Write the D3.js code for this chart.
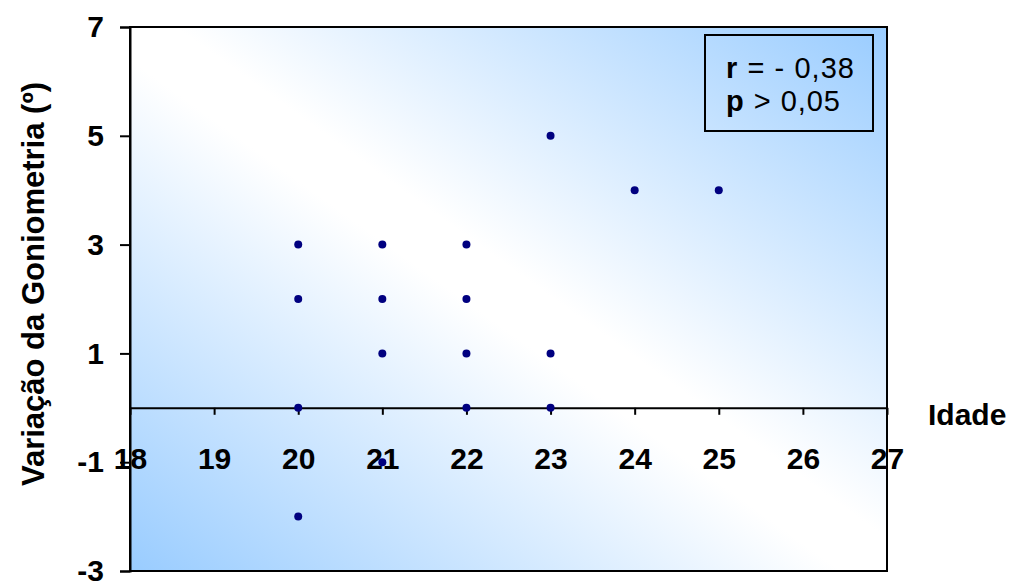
<!DOCTYPE html>
<html>
<head>
<meta charset="utf-8">
<script src="https://cdn.jsdelivr.net/npm/d3@7"></script>
<style>
  body { margin: 0; background: #fff; }
  text { font-family: Arial, "Liberation Sans", sans-serif; }
</style>
</head>
<body>
<svg id="chart" width="1017" height="585"></svg>
<script>
// idade (x) e variação da goniometria (y)
const ages    = [20, 20, 20, 20, 21, 21, 21, 21, 22, 22, 22, 22, 23, 23, 23, 24, 25];
const changes = [ 3,  2,  0, -2,  3,  2,  1, -1,  3,  2,  1,  0,  5,  1,  0,  4,  4];
const xTicks = [18, 19, 20, 21, 22, 23, 24, 25, 26, 27];
const yTicks = [-3, -1, 1, 3, 5, 7];
const statLines = [["r", " = - 0,38"], ["p", " > 0,05"]];

const svg = d3.select("#chart");
const plotL = 130, plotR = 887, plotT = 27, plotB = 571;

const x = d3.scaleLinear().domain([18, 27]).range([plotL, plotR]);
const y = d3.scaleLinear().domain([-3, 7]).range([plotB, plotT]);

// fundo em degradê diagonal
const grad = svg.append("defs").append("linearGradient")
  .attr("id", "bg").attr("x1", 0).attr("y1", 1).attr("x2", 1).attr("y2", 0);
grad.append("stop").attr("offset", 0).attr("stop-color", "#99CCFF");
grad.append("stop").attr("offset", 0.47).attr("stop-color", "#FFFFFF");
grad.append("stop").attr("offset", 0.53).attr("stop-color", "#FFFFFF");
grad.append("stop").attr("offset", 1).attr("stop-color", "#99CCFF");

svg.append("rect")
  .attr("x", plotL).attr("y", plotT)
  .attr("width", plotR - plotL).attr("height", plotB - plotT)
  .attr("fill", "url(#bg)")
  .attr("stroke", "#000").attr("stroke-width", 2);

// eixo Y
const yAxis = svg.append("g")
  .attr("transform", `translate(${plotL},0)`)
  .call(d3.axisLeft(y).tickValues(yTicks).tickSize(10).tickPadding(16).tickFormat(d3.format("d")));
yAxis.select(".domain").attr("stroke-width", 2);
yAxis.selectAll(".tick line").attr("stroke-width", 2);
yAxis.selectAll("text")
  .attr("font-size", 30).attr("font-weight", "bold").attr("fill", "#000")
  .attr("font-family", "Arial, 'Liberation Sans', sans-serif")
  .text(d => d < 0 ? "-" + Math.abs(d) : d);

// eixo X passando em y = 0
const xAxis = svg.append("g")
  .attr("transform", `translate(0,${y(0)})`)
  .call(d3.axisBottom(x).tickValues(xTicks).tickSize(7).tickSizeOuter(0));
xAxis.select(".domain").attr("stroke-width", 2);
xAxis.selectAll(".tick line").attr("stroke-width", 2);
xAxis.selectAll("text")
  .attr("y", 61).attr("dy", null)
  .attr("font-size", 30).attr("font-weight", "bold").attr("fill", "#000")
  .attr("font-family", "Arial, 'Liberation Sans', sans-serif");

// pontos
svg.append("g").selectAll("circle")
  .data(ages.map((a, i) => [a, changes[i]]))
  .join("circle")
  .attr("cx", d => x(d[0]))
  .attr("cy", d => y(d[1]))
  .attr("r", 4)
  .attr("fill", "#000080");

// títulos dos eixos
svg.append("text")
  .attr("x", 928).attr("y", 425)
  .attr("font-size", 30).attr("font-weight", "bold")
  .text("Idade");

svg.append("text")
  .attr("transform", "translate(44,284) rotate(-90)")
  .attr("text-anchor", "middle")
  .attr("font-size", 31).attr("font-weight", "bold")
  .text("Variação da Goniometria (º)");

// caixa de estatística
svg.append("rect")
  .attr("x", 705).attr("y", 35).attr("width", 168).attr("height", 96)
  .attr("fill", "none").attr("stroke", "#000").attr("stroke-width", 2);

const stat = svg.append("g").selectAll("text")
  .data(statLines)
  .join("text")
  .attr("x", 726)
  .attr("y", (d, i) => 78 + i * 33)
  .attr("font-size", 29)
  .attr("textLength", (d, i) => i === 0 ? 128 : 114)
  .attr("lengthAdjust", "spacing");
stat.append("tspan").attr("font-weight", "bold").text(d => d[0]);
stat.append("tspan").text(d => d[1]);
</script>
</body>
</html>
